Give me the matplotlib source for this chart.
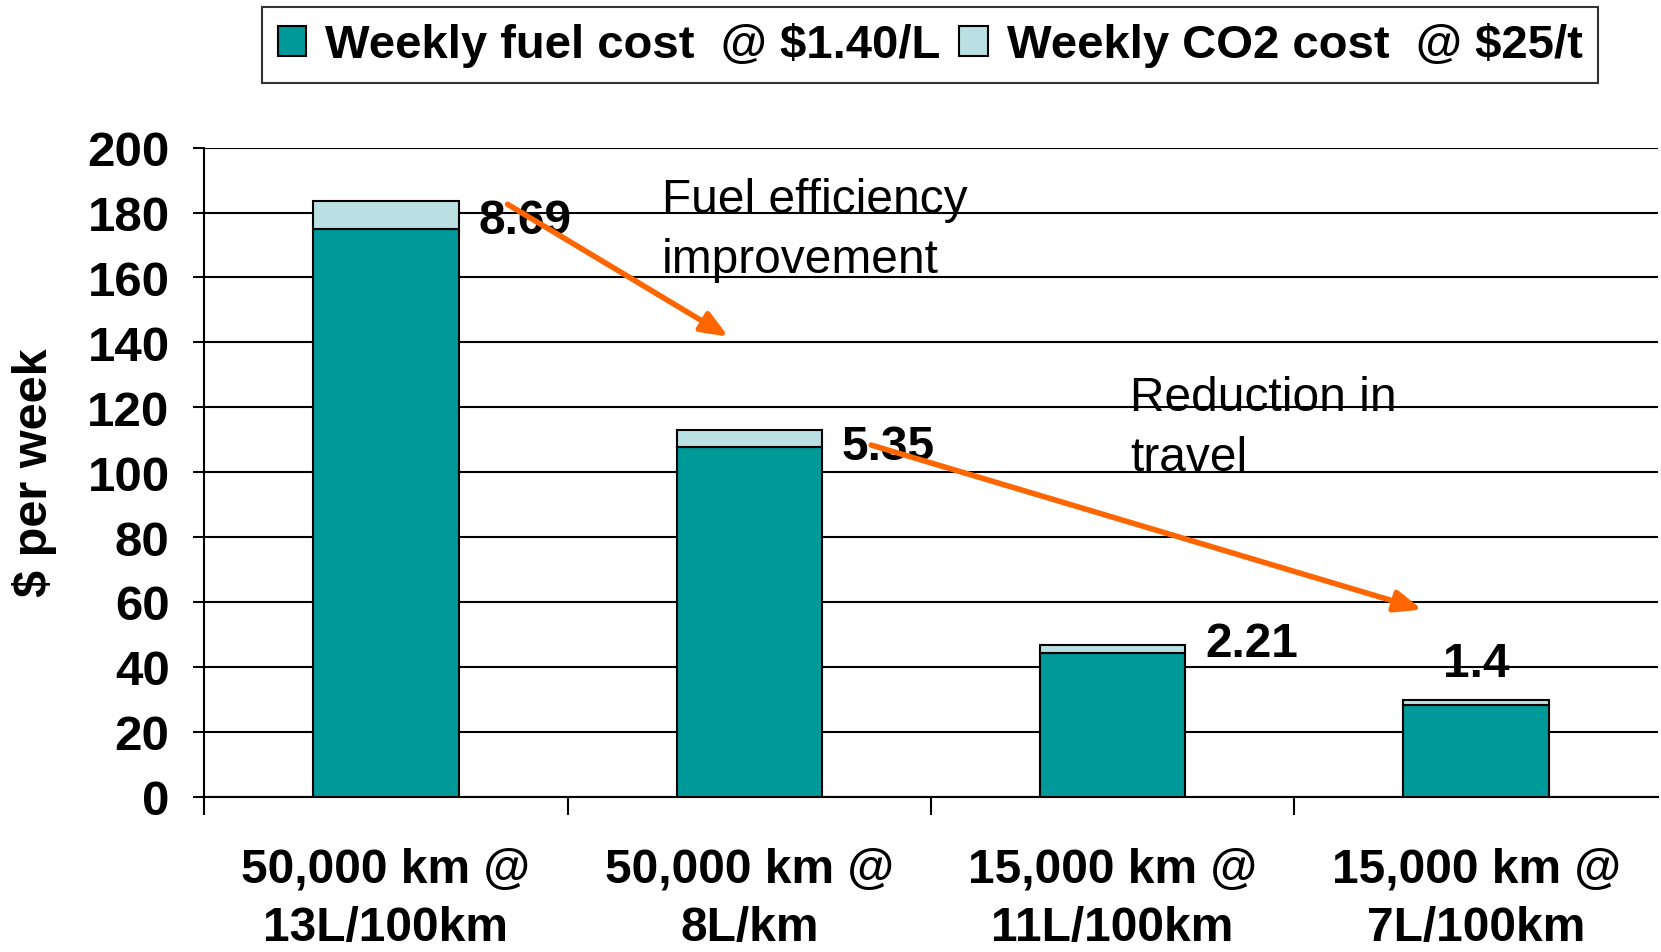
#!/usr/bin/env python3
"""Weekly fuel + CO2 cost by distance / fuel efficiency (stacked bars)."""

import matplotlib
matplotlib.use("Agg")
import matplotlib.pyplot as plt

plt.rcParams["font.family"] = ["Liberation Sans", "DejaVu Sans"]

# --- data -----------------------------------------------------------------
categories = [
    "50,000 km @\n13L/100km",
    "50,000 km @\n8L/km",
    "15,000 km @\n11L/100km",
    "15,000 km @\n7L/100km",
]
fuel_cost = [175.0, 107.69, 44.42, 28.27]
co2_cost = [8.69, 5.35, 2.21, 1.40]
co2_labels = ["8.69", "5.35", "2.21", "1.4"]
y_ticks = [0, 20, 40, 60, 80, 100, 120, 140, 160, 180, 200]

FUEL_COLOR = "#009999"
CO2_COLOR = "#BAE0E3"
ARROW_COLOR = "#FF6600"


def main():
    fig = plt.figure(figsize=(16.61, 9.53), dpi=100)
    ax = fig.add_axes([0.123, 0.163, 0.875, 0.681])

    x = list(range(len(categories)))
    ax.bar(x, fuel_cost, width=0.4, color=FUEL_COLOR, edgecolor="black",
           linewidth=1.5, label="Weekly fuel cost  @ $1.40/L", zorder=3)
    ax.bar(x, co2_cost, width=0.4, bottom=fuel_cost, color=CO2_COLOR,
           edgecolor="black", linewidth=1.5,
           label="Weekly CO2 cost  @ $25/t", zorder=3)

    # CO2 value labels
    label_dx = [0.255, 0.255, 0.255, 0.0]
    label_dy = [-6, -5, 0.5, 11.5]
    label_ha = ["left", "left", "left", "center"]
    for i, txt in enumerate(co2_labels):
        top = fuel_cost[i] + co2_cost[i]
        ax.text(i + label_dx[i], top + label_dy[i], txt, ha=label_ha[i],
                va="center", fontsize=34.5, fontweight="bold", zorder=4)

    # arrows + notes
    arrow_style = dict(arrowstyle="-|>,head_length=1.6,head_width=0.65",
                       color=ARROW_COLOR, lw=4)
    ax.annotate("", xy=(0.949, 141.3), xytext=(0.328, 183.0),
                arrowprops=arrow_style, zorder=5)
    ax.annotate("", xy=(2.859, 57.4), xytext=(1.328, 108.6),
                arrowprops=arrow_style, zorder=5)
    ax.text(0.759, 191, "Fuel efficiency\nimprovement", ha="left", va="top",
            fontsize=34.5, linespacing=1.42, zorder=4)
    ax.text(2.048, 130, "Reduction in\ntravel", ha="left", va="top",
            fontsize=34.5, linespacing=1.42, zorder=4)

    # axes
    ax.set_xlim(-0.5, 3.5)
    ax.set_ylim(0, 200)
    ax.set_yticks(y_ticks)
    ax.yaxis.grid(True, color="black", linewidth=1.5, zorder=0)
    ax.set_axisbelow(True)
    ax.tick_params(axis="y", labelsize=35.5, length=8, width=1.5, pad=17)
    for lab in ax.get_yticklabels():
        lab.set_fontweight("bold")

    ax.set_xticks([-0.5, 0.5, 1.5, 2.5])
    ax.set_xticklabels([])
    ax.tick_params(axis="x", which="major", length=13, width=1.5)
    ax.set_xticks(x, minor=True)
    ax.set_xticklabels(categories, minor=True, fontsize=34.5,
                       fontweight="bold", linespacing=1.38)
    ax.tick_params(axis="x", which="minor", length=0, pad=36)

    ax.set_ylabel("$ per week", fontsize=35, fontweight="bold", labelpad=22)

    for side in ("top", "right"):
        ax.spines[side].set_visible(False)
    for side in ("left", "bottom"):
        ax.spines[side].set_linewidth(1.5)

    leg = fig.legend(loc="upper center", bbox_to_anchor=(0.56, 0.992), ncol=2,
                     prop={"size": 34, "weight": "bold"}, frameon=True,
                     fancybox=False, edgecolor="black", handlelength=0.6,
                     handleheight=0.6, handletextpad=0.4, columnspacing=0.4,
                     borderpad=0.33, borderaxespad=0)
    leg.get_frame().set_linewidth(1.5)

    fig.savefig("out.png", dpi=100)


if __name__ == "__main__":
    main()
